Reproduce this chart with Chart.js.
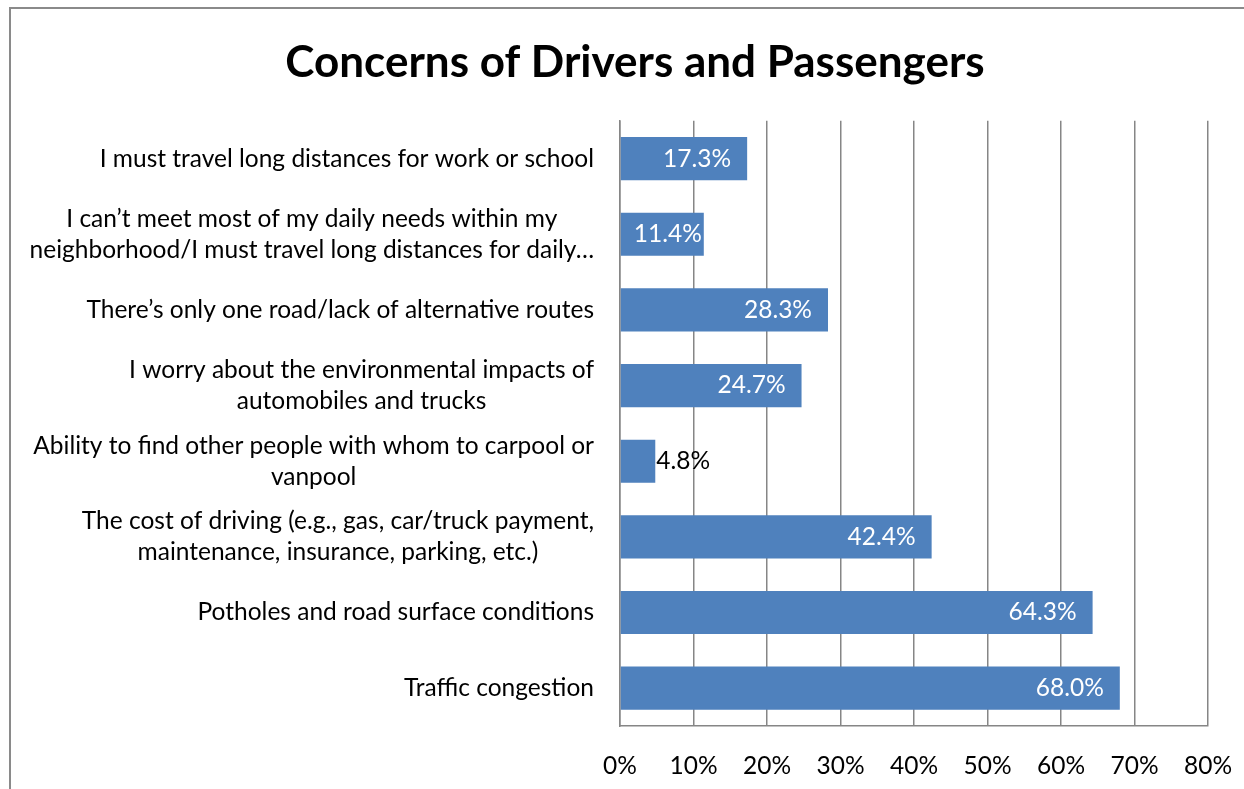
<!DOCTYPE html>
<html>
<head>
<meta charset="utf-8">
<script src="https://cdn.jsdelivr.net/npm/chart.js@4"></script>
<style>
  html, body { margin: 0; padding: 0; background: #fff; }
  #wrap { position: relative; width: 1244px; height: 789px; overflow: hidden; }
  #frame { position: absolute; left: 9px; top: 7px; width: 1300px; height: 900px;
           border-top: 2px solid #8a8a8a; border-left: 2px solid #8a8a8a; }
  canvas { position: absolute; left: 0; top: 0; }
</style>
</head>
<body>
<div id="wrap">
  <div id="frame"></div>
  <canvas id="chart" width="1244" height="789"></canvas>
</div>
<script>
const categories = [
    ['I must travel long distances for work or school'],
    ['I can\u2019t meet most of my daily needs within my', 'neighborhood/I must travel long distances for daily\u2026'],
    ['There\u2019s only one road/lack of alternative routes'],
    ['I worry about the environmental impacts of', 'automobiles and trucks'],
    ['Ability to find other people with whom to carpool or', 'vanpool'],
    ['The cost of driving (e.g., gas, car/truck payment,', 'maintenance, insurance, parking, etc.)'],
    ['Potholes and road surface conditions'],
    ['Traffic congestion']
];
const values = [17.3, 11.4, 28.3, 24.7, 4.8, 42.4, 64.3, 68.0];
const xTicks = [0, 10, 20, 30, 40, 50, 60, 70, 80];

const FONT = 'Lato, "Open Sans", sans-serif';
const TEXT_SIZE = 24.5;
const BAR_COLOR = '#4f81bd';
const GRID_COLOR = '#868686';

// category labels drawn by hand so wrapped lines are centred like the original
const catLabels = {
    id: 'catLabels',
    afterDraw(chart) {
        const ctx = chart.ctx;
        const yScale = chart.scales.y;
        const right = chart.chartArea.left - 26;
        const lineH = 31;
        ctx.save();
        ctx.font = TEXT_SIZE + 'px ' + FONT;
        ctx.fillStyle = '#000';
        ctx.textAlign = 'center';
        ctx.textBaseline = 'middle';
        categories.forEach((lines, i) => {
            const y = yScale.getPixelForTick(i);
            const w = Math.max(...lines.map(l => ctx.measureText(l).width));
            const cx = right - w / 2;
            lines.forEach((l, j) => {
                ctx.fillText(l, cx, y + (j - (lines.length - 1) / 2) * lineH);
            });
        });
        ctx.restore();
    }
};

// value labels: inside the bar end in white, outside in black when too small
const valueLabels = {
    id: 'valueLabels',
    afterDatasetsDraw(chart) {
        const ctx = chart.ctx;
        const meta = chart.getDatasetMeta(0);
        ctx.save();
        ctx.font = TEXT_SIZE + 'px ' + FONT;
        ctx.textBaseline = 'middle';
        meta.data.forEach((bar, i) => {
            const txt = values[i].toFixed(1) + '%';
            const w = ctx.measureText(txt).width;
            const start = bar.base;
            const end = bar.x;
            if (end - start >= w + 6) {
                let x = end - 16;
                if (x - w < start + 18) x = Math.min(start + 18 + w, end - 2);
                ctx.fillStyle = '#fff';
                ctx.textAlign = 'right';
                ctx.fillText(txt, x, bar.y);
            } else {
                ctx.fillStyle = '#000';
                ctx.textAlign = 'left';
                ctx.fillText(txt, end + 1, bar.y);
            }
        });
        ctx.restore();
    }
};

new Chart(document.getElementById('chart'), {
    type: 'bar',
    data: {
        labels: categories,
        datasets: [{
            data: values,
            backgroundColor: BAR_COLOR,
            borderWidth: 0,
            barPercentage: 0.57,
            categoryPercentage: 1.0
        }]
    },
    options: {
        indexAxis: 'y',
        responsive: false,
        animation: false,
        layout: { padding: { left: 62, right: 36, top: 0, bottom: 0 } },
        plugins: {
            legend: { display: false },
            tooltip: { enabled: false },
            title: {
                display: true,
                text: 'Concerns of Drivers and Passengers',
                color: '#000',
                font: { family: FONT, size: 44, weight: 'bold', lineHeight: 1.2 },
                padding: { top: 36, bottom: 32 }
            }
        },
        scales: {
            x: {
                min: 0,
                max: 80,
                afterBuildTicks: axis => { axis.ticks = xTicks.map(v => ({ value: v })); },
                afterFit: axis => {
                    axis.height = 63;
                    axis.paddingRight = 0;
                    axis.paddingLeft = 0;
                },
                grid: { color: GRID_COLOR, lineWidth: 1.5, drawTicks: false },
                border: { color: GRID_COLOR, width: 1.5 },
                ticks: {
                    color: '#000',
                    padding: 25,
                    maxRotation: 0,
                    font: { family: FONT, size: TEXT_SIZE },
                    callback: v => v + '%'
                }
            },
            y: {
                afterFit: axis => { axis.width = 558; },
                grid: { display: false, drawTicks: false },
                border: { color: GRID_COLOR, width: 1.5 },
                ticks: { display: false }
            }
        }
    },
    plugins: [catLabels, valueLabels]
});
</script>
</body>
</html>
